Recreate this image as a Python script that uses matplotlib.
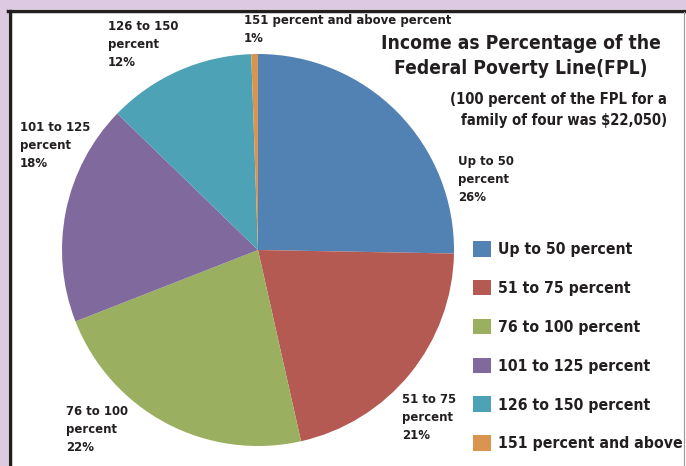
import matplotlib.pyplot as plt
from matplotlib.patches import Rectangle

W, H = 686, 466

categories = ["Up to 50 percent", "51 to 75 percent", "76 to 100 percent",
              "101 to 125 percent", "126 to 150 percent", "151 percent and above"]
# slice sizes as measured from the wedge angles in the picture
shares = [25.3, 21.2, 22.6, 18.2, 12.2, 0.55]
slice_labels = ["Up to 50\npercent\n26%", "51 to 75\npercent\n21%", "76 to 100\npercent\n22%",
                "101 to 125\npercent\n18%", "126 to 150\npercent\n12%",
                "151 percent and above percent\n1%"]
colors = ["#5282B3", "#B45A52", "#9AAF60", "#806A9D", "#4EA2B6", "#DA9450"]

# where each slice label sits (pixel, top-left of the text)
label_pos = [(458, 155), (402, 393), (66, 405), (20, 121), (108, 20), (244, 14)]

FONT = ["DejaVu Sans"]
STRETCH = "condensed"
TXT = "#231f20"

fig = plt.figure(figsize=(W / 100, H / 100), dpi=100)
fig.patch.set_facecolor("#ddcae2")

def fx(x):
    return x / W

def fy(y):
    return 1 - y / H

# white panel with dark frame on left/top
fig.patches.append(Rectangle((fx(8), 0), 1 - fx(8), fy(9), transform=fig.transFigure,
                             facecolor="white", edgecolor="none", zorder=-5))
fig.add_artist(plt.Line2D([fx(9.5), fx(9.5)], [0, fy(10.5)], transform=fig.transFigure,
                          color="#231f20", lw=2.5))
fig.add_artist(plt.Line2D([fx(8), 1], [fy(10.5), fy(10.5)], transform=fig.transFigure,
                          color="#231f20", lw=2.5))
fig.add_artist(plt.Line2D([fx(684), fx(684)], [0, fy(12)], transform=fig.transFigure,
                          color="#999999", lw=0.8))

# pie: centre (258, 250), radius 196 px
cx, cy, r = 258, 250, 196
ax = fig.add_axes([fx(cx - r), fy(cy + r), 2 * r / W, 2 * r / H])
wedges, _ = ax.pie(shares, colors=colors, startangle=90, counterclock=False,
                   wedgeprops=dict(linewidth=0))
ax.set_xlim(-1, 1)
ax.set_ylim(-1, 1)
ax.set_aspect("equal")

for lab, (x, y) in zip(slice_labels, label_pos):
    fig.text(fx(x), fy(y), lab, ha="left", va="top", fontsize=9.4, fontweight="bold",
             family=FONT, fontstretch=STRETCH, color=TXT, linespacing=1.5)

fig.text(fx(661), fy(34), "Income as Percentage of the\nFederal Poverty Line(FPL)",
         ha="right", va="top", fontsize=13.8, fontweight="bold", family=FONT,
         fontstretch=STRETCH, color=TXT, linespacing=1.38, multialignment="center")
fig.text(fx(667), fy(92), "(100 percent of the FPL for a\nfamily of four was $22,050)",
         ha="right", va="top", fontsize=10.6, fontweight="bold", family=FONT,
         fontstretch=STRETCH, color=TXT, linespacing=1.48, multialignment="right")

leg = fig.legend(wedges, categories, loc="upper left",
                 bbox_to_anchor=(fx(473), fy(241)), frameon=False,
                 prop=dict(family=FONT, weight="bold", size=11.3, stretch=STRETCH),
                 handlelength=1.15, handleheight=1.15, handletextpad=0.45,
                 labelspacing=1.45, borderpad=0, borderaxespad=0)
for t in leg.get_texts():
    t.set_color(TXT)

fig.savefig("out.png", dpi=100)
